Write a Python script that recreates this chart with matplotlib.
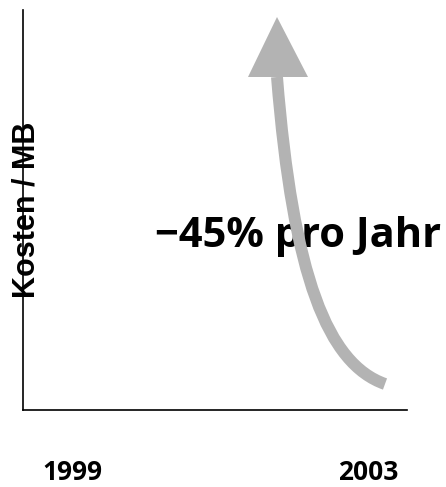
import matplotlib
matplotlib.use("Agg")
import matplotlib.pyplot as plt
from matplotlib.path import Path
from matplotlib.patches import PathPatch

# Axis labels and headline
year_labels = ["1999", "2003"]
year_pos = [49, 345]
y_title = "Kosten / MB"
headline = "\u221245% pro Jahr"

# Cost curve as one cubic Bezier (start, two control points, end), axes units
curve_x = [362, 305, 270, 254]
curve_y = [26, 46, 133, 333]

# Arrow head: base corners and tip
head_x = [225, 285, 254]
head_y = [333, 333, 393]

ARROW = "#b3b3b3"

fig = plt.figure(figsize=(4.46, 4.87), dpi=100)
ax = fig.add_axes([23 / 446, 77 / 487, 384 / 446, 400 / 487])
ax.set_xlim(0, 384)
ax.set_ylim(0, 400)

for side in ["top", "right"]:
    ax.spines[side].set_visible(False)
for side in ["left", "bottom"]:
    ax.spines[side].set_linewidth(1.2)
    ax.spines[side].set_color("black")

ax.set_yticks([])
ax.set_xticks(year_pos, year_labels)
ax.tick_params(axis="x", length=0, pad=35.5)
for lbl in ax.get_xticklabels():
    lbl.set_fontfamily("Open Sans")
    lbl.set_fontweight("bold")
    lbl.set_fontsize(19)

ax.set_ylabel(y_title, family="Liberation Sans", weight="bold", fontsize=22)
ax.yaxis.set_label_coords(0.047, 0.5)

ax.text(132, 163, headline, family="Open Sans", weight="bold", fontsize=30,
        ha="left", va="baseline", zorder=2)

# curved arrow drawn on top of the headline
shaft = Path(list(zip(curve_x, curve_y)),
             [Path.MOVETO, Path.CURVE4, Path.CURVE4, Path.CURVE4])
ax.add_patch(PathPatch(shaft, facecolor="none", edgecolor=ARROW, lw=8.6,
                       capstyle="butt", zorder=3, clip_on=False))
ax.fill(head_x, head_y, color=ARROW, lw=0, zorder=3, clip_on=False)

fig.savefig("out.png", dpi=100)
